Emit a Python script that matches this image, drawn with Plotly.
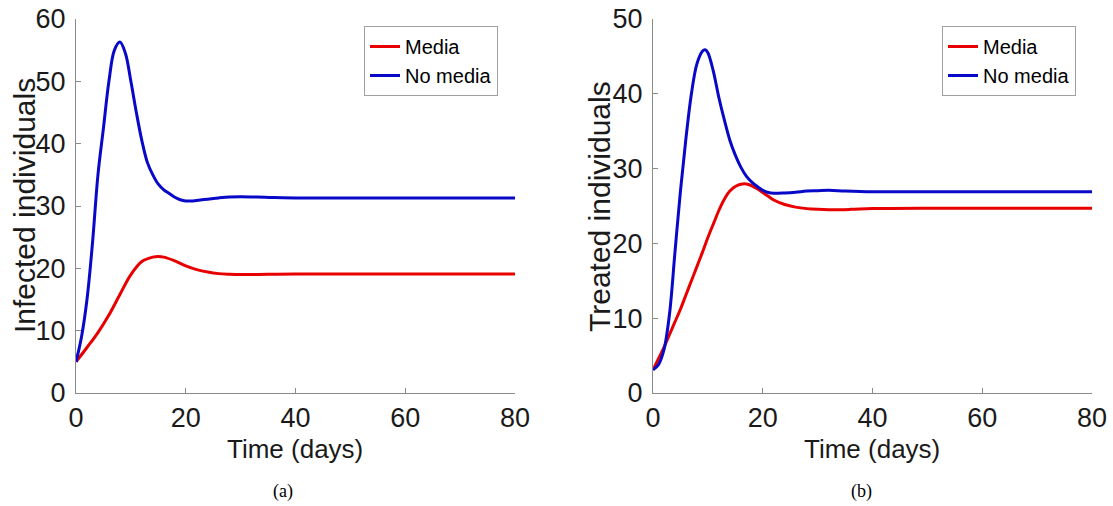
import plotly.graph_objects as go

# ---------------- data ----------------
t_inf_nomedia = [0, 1, 2, 3, 4, 5, 6, 7, 8, 9, 10, 11, 12, 13, 14, 15, 16, 17, 18, 19, 20, 21, 22, 24, 26, 28, 30, 33, 36, 40, 50, 60, 70, 80]
inf_nomedia = [5, 9, 15, 24, 35, 42.5, 50, 55, 56.3, 54.5, 50, 45, 40.5, 37, 35, 33.5, 32.6, 32, 31.4, 31, 30.8, 30.8, 30.9, 31.1, 31.3, 31.45, 31.5, 31.45, 31.35, 31.3, 31.3, 31.3, 31.3, 31.3]

t_inf_media = [0, 2, 4, 6, 8, 10, 12, 14, 15, 16, 18, 20, 22, 24, 26, 28, 30, 35, 40, 50, 60, 70, 80]
inf_media = [5, 7.3, 9.7, 12.5, 15.8, 19, 21.1, 21.8, 21.9, 21.8, 21.2, 20.4, 19.8, 19.4, 19.15, 19.05, 19.0, 19.05, 19.1, 19.1, 19.1, 19.1, 19.1]

t_trt_nomedia = [0, 1, 2, 3, 4, 5, 6, 7, 8, 9, 9.5, 10, 11, 12, 13, 14, 15, 16, 17, 18, 19, 20, 21, 22, 24, 26, 28, 30, 32, 35, 40, 50, 60, 70, 80]
trt_nomedia = [3.1, 3.8, 5.8, 10.5, 18.8, 27, 34, 40, 44, 45.7, 45.9, 45.5, 43, 39.5, 36.5, 33.8, 31.8, 30.2, 29, 28.2, 27.6, 27.1, 26.8, 26.7, 26.75, 26.85, 27.0, 27.05, 27.1, 27.0, 26.9, 26.9, 26.9, 26.9, 26.9]

t_trt_media = [0, 1, 2, 3, 4, 5, 6, 7, 8, 9, 10, 11, 12, 13, 14, 15, 16, 17, 18, 19, 20, 21, 22, 24, 26, 28, 30, 32, 36, 40, 50, 60, 70, 80]
trt_media = [3.1, 4.6, 6.1, 7.8, 9.5, 11.2, 13.1, 15.0, 16.9, 18.8, 20.8, 22.6, 24.4, 25.9, 27.0, 27.6, 27.9, 27.95, 27.7, 27.3, 26.8, 26.3, 25.8, 25.2, 24.85, 24.65, 24.55, 24.5, 24.55, 24.65, 24.7, 24.7, 24.7, 24.7]

x_ticks = [0, 20, 40, 60, 80]
y_ticks_inf = [0, 10, 20, 30, 40, 50, 60]
y_ticks_trt = [0, 10, 20, 30, 40, 50]

RED = "rgb(232,0,0)"
BLUE = "rgb(8,8,200)"
FONT = "Liberation Sans, Arial, Helvetica, sans-serif"
TXT = "#1a1a1a"
AXC = "#8a8a8a"

fig = go.Figure()
line_kw = dict(mode="lines", line_shape="spline", hoverinfo="skip")
fig.add_trace(go.Scatter(x=t_inf_media, y=inf_media, name="Media", line=dict(color=RED, width=3),
                         xaxis="x", yaxis="y", legend="legend", **line_kw))
fig.add_trace(go.Scatter(x=t_inf_nomedia, y=inf_nomedia, name="No media", line=dict(color=BLUE, width=3),
                         xaxis="x", yaxis="y", legend="legend", **line_kw))
fig.add_trace(go.Scatter(x=t_trt_media, y=trt_media, name="Media", line=dict(color=RED, width=3),
                         xaxis="x2", yaxis="y2", legend="legend2", **line_kw))
fig.add_trace(go.Scatter(x=t_trt_nomedia, y=trt_nomedia, name="No media", line=dict(color=BLUE, width=3),
                         xaxis="x2", yaxis="y2", legend="legend2", **line_kw))

W, H = 1113, 506
def px_x(p):
    return p / W
def px_y(p):
    return 1 - p / H

axis_common = dict(showline=True, linecolor=AXC, linewidth=1, ticks="inside", ticklen=5,
                   tickcolor=AXC, tickwidth=1, showgrid=False, zeroline=False, automargin=False,
                   tickfont=dict(family=FONT, size=27, color=TXT), mirror=False)

legend_common = dict(xanchor="left", yanchor="top", bgcolor="white", bordercolor="#a0a0a0",
                     borderwidth=1, font=dict(family=FONT, size=20, color="black"),
                     tracegroupgap=0, itemwidth=30)

fig.update_layout(
    width=W, height=H,
    margin=dict(l=0, r=0, t=0, b=0, autoexpand=False),
    paper_bgcolor="white", plot_bgcolor="white",
    xaxis=dict(domain=[px_x(76), px_x(515)], range=[0, 80], tickvals=x_ticks, anchor="y",
               ticklabelstandoff=1, **axis_common),
    yaxis=dict(domain=[px_y(393), px_y(19)], range=[0, 60], tickvals=y_ticks_inf, anchor="x",
               ticklabelstandoff=4, **axis_common),
    xaxis2=dict(domain=[px_x(653), px_x(1092)], range=[0, 80], tickvals=x_ticks, anchor="y2",
                ticklabelstandoff=1, **axis_common),
    yaxis2=dict(domain=[px_y(393), px_y(19)], range=[0, 50], tickvals=y_ticks_trt, anchor="x2",
                ticklabelstandoff=4, **axis_common),
    legend=dict(x=px_x(364), y=px_y(26), **legend_common),
    legend2=dict(x=px_x(942), y=px_y(26), **legend_common),
    showlegend=True,
    annotations=[
        dict(text="Time (days)", x=px_x(295), y=px_y(449), xref="paper", yref="paper",
             xanchor="center", yanchor="middle",
             showarrow=False, font=dict(family=FONT, size=26, color=TXT)),
        dict(text="Time (days)", x=px_x(872), y=px_y(449), xref="paper", yref="paper",
             xanchor="center", yanchor="middle",
             showarrow=False, font=dict(family=FONT, size=26, color=TXT)),
        dict(text="Infected individuals", x=px_x(24), y=px_y(206), xref="paper", yref="paper",
             xanchor="center", yanchor="middle",
             showarrow=False, textangle=-90, font=dict(family=FONT, size=30, color=TXT)),
        dict(text="Treated individuals", x=px_x(599), y=px_y(207), xref="paper", yref="paper",
             xanchor="center", yanchor="middle",
             showarrow=False, textangle=-90, font=dict(family=FONT, size=30, color=TXT)),
        dict(text="(a)", x=px_x(283), y=px_y(491), xref="paper", yref="paper",
             xanchor="center", yanchor="middle",
             showarrow=False, font=dict(family="Liberation Serif, DejaVu Serif, serif", size=18, color="black")),
        dict(text="(b)", x=px_x(861), y=px_y(491), xref="paper", yref="paper",
             xanchor="center", yanchor="middle",
             showarrow=False, font=dict(family="Liberation Serif, DejaVu Serif, serif", size=18, color="black")),
    ],
)

fig.write_html("out.html")
